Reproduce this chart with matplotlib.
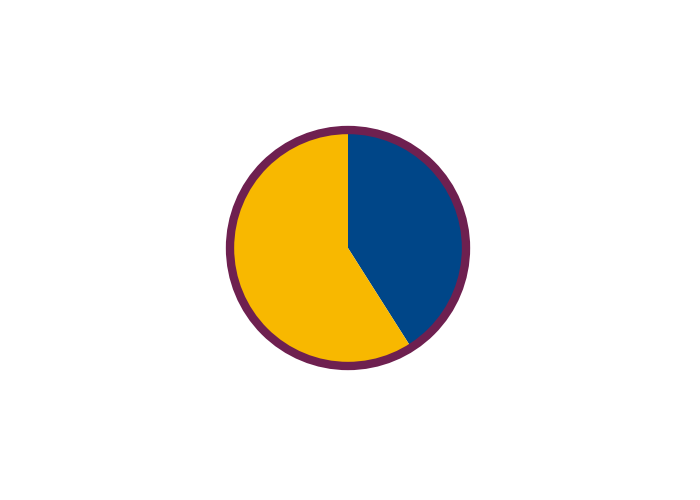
import matplotlib
matplotlib.use("Agg")
import matplotlib.pyplot as plt
from matplotlib.patches import Circle

labels = ["Blue", "Yellow"]
values = [41, 59]
colors = ["#004688", "#F8B800"]
ring_color = "#6E2050"

fig = plt.figure(figsize=(7, 5), dpi=100)
ax = fig.add_axes([0, 0, 1, 1])

cx, cy, r = 348, 248, 116
# y axis is flipped, so -90 points up on screen and "counterclock" runs clockwise
ax.pie(values, colors=colors, startangle=-90, counterclock=True,
       center=(cx, cy), radius=r, frame=True,
       wedgeprops=dict(linewidth=0, edgecolor="none"))
ax.set_xlim(0, 700)
ax.set_ylim(500, 0)
ax.set_aspect("equal")
ax.axis("off")

ring = Circle((cx, cy), r + 2, fill=False, edgecolor=ring_color, linewidth=6)
ax.add_patch(ring)

fig.savefig("out.png", dpi=100)
